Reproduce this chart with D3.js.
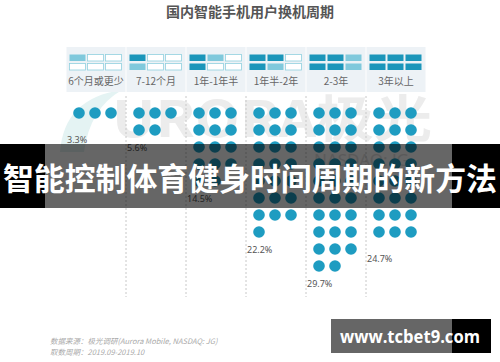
<!DOCTYPE html>
<html lang="zh">
<head>
    <meta charset="utf-8">
    <script type="text/javascript" src="https://d3js.org/d3.v7.min.js"></script>
    <style>
        body { margin: 0; background: #fff; }
        svg { display: block; font-family: "Noto Sans CJK SC", "Noto Sans", sans-serif; }
    </style>
</head>

<body>
    <script type="text/javascript">
        // SVG width and height
        let w = 500;
        let h = 362;

        // Data
        let categories = ["6个月或更少", "7-12个月", "1年-1年半", "1年半-2年", "2-3年", "3年以上"];
        let values = [3.3, 5.6, 14.5, 22.2, 29.7, 24.7];
        // legend boxes: filled dark / light (each box = 3 months)
        let legendDark = [0, 1, 2, 3, 4, 6];
        let legendLight = [1, 1, 1, 1, 2, 0];

        let dotsPerRow = 3;
        let r = 5.8;
        let teal = "#1e9cc1";

        let svg = d3.select("body").append("svg")
            .attr("width", w)
            .attr("height", h);

        let defs = svg.append("defs");

        // Scales
        let x = d3.scaleBand().domain(categories).range([66, 426]).padding(0);
        let xIn = d3.scalePoint().domain([0, 1, 2]).range([13, 45]);
        let y = d3.scaleLinear().domain([0, 1]).range([113, 130]);

        // Faint background logo
        svg.append("path")
            .attr("d", "M60,152 Q64,98 122,90 Q90,108 84,152 Z")
            .attr("fill", "#e4f3f3");
        svg.append("text")
            .attr("x", 112).attr("y", 137)
            .attr("font-size", 50).attr("font-weight", 700)
            .attr("fill", "#ececec")
            .attr("textLength", 320)
            .attr("lengthAdjust", "spacingAndGlyphs")
            .text("URORA极光");
        svg.append("text")
            .attr("x", 314).attr("y", 166)
            .attr("font-size", 17)
            .attr("fill", "#e2e2e2")
            .attr("font-family", "Noto Sans")
            .text("NASDAQ: JG");

        // Title
        svg.append("text")
            .attr("x", 250).attr("y", 17)
            .attr("text-anchor", "middle")
            .attr("font-size", 14).attr("font-weight", 700)
            .attr("fill", "#555")
            .text("国内智能手机用户换机周期");

        // Legend cells
        let cells = svg.selectAll(".cell")
            .data(categories)
            .join("g")
                .attr("class", "cell")
                .attr("transform", d => `translate(${x(d)},0)`);

        cells.append("rect")
            .attr("x", 0.5).attr("y", 47)
            .attr("width", x.bandwidth() - 1).attr("height", 45)
            .attr("fill", "#edf2f6");

        cells.each(function(d, i) {
            let boxes = d3.range(6).map(k => ({
                col: Math.floor(k / 2),
                row: k % 2,
                kind: k < legendDark[i] ? "dark" : (k < legendDark[i] + legendLight[i] ? "light" : "empty")
            }));
            d3.select(this).selectAll(".box")
                .data(boxes)
                .join("rect")
                    .attr("class", "box")
                    .attr("x", b => 3.5 + b.col * 18)
                    .attr("y", b => 54.5 + b.row * 9)
                    .attr("width", 16).attr("height", 6.5)
                    .attr("fill", b => b.kind === "dark" ? "#1b96ba" : (b.kind === "light" ? "#80c9dc" : "#fff"))
                    .attr("stroke", b => b.kind === "empty" ? "#8fd0de" : "none")
                    .attr("stroke-width", 0.8);
        });

        cells.append("text")
            .attr("x", x.bandwidth() / 2).attr("y", 85)
            .attr("text-anchor", "middle")
            .attr("font-size", 10)
            .attr("fill", "#666")
            .text(d => d);

        // Dashed separators
        svg.selectAll(".sep")
            .data(categories.slice(1))
            .join("line")
                .attr("class", "sep")
                .attr("x1", d => x(d)).attr("x2", d => x(d))
                .attr("y1", 96).attr("y2", 297)
                .attr("stroke", "#c8c8c8")
                .attr("stroke-dasharray", "2,2");

        // Dots (1 dot = 1%)
        categories.forEach(function(c, i) {
            let v = values[i];
            let full = Math.floor(v);
            let frac = Math.round((v - full) * 10) / 10;
            let dots = d3.range(full).map(k => ({ k: k, f: 1 }));
            if (frac > 0) dots.push({ k: full, f: frac });

            let g = svg.append("g").attr("transform", `translate(${x(c)},0)`);
            dots.forEach(function(d) {
                let cx = xIn(d.k % dotsPerRow);
                let cy = y(Math.floor(d.k / dotsPerRow));
                let dot = g.append("circle")
                    .attr("cx", cx).attr("cy", cy).attr("r", r)
                    .attr("fill", teal);
                if (d.f < 1) {
                    let id = "clip" + i;
                    defs.append("clipPath").attr("id", id)
                        .append("rect")
                        .attr("x", x(c) + cx - r).attr("y", cy - r)
                        .attr("width", 2 * r).attr("height", 2 * r * d.f);
                    dot.attr("clip-path", `url(#${id})`);
                }
            });

            let last = dots[dots.length - 1];
            let lastRow = Math.floor(last.k / dotsPerRow);
            let startsRow = last.k % dotsPerRow === 0 && last.f < 1;
            g.append("text")
                .attr("x", 1)
                .attr("y", y(lastRow) + (startsRow ? 13 : 21))
                .attr("font-size", 9)
                .attr("fill", "#555")
                .attr("font-family", "Noto Sans")
                .text(v + "%");
        });

        // Footnotes
        svg.append("text")
            .attr("x", 50).attr("y", 344)
            .attr("font-size", 7.5).attr("font-style", "italic")
            .attr("fill", "#aaa")
            .text("数据来源：极光调研(Aurora Mobile, NASDAQ: JG)");
        svg.append("text")
            .attr("x", 50).attr("y", 355)
            .attr("font-size", 7.5).attr("font-style", "italic")
            .attr("fill", "#aaa")
            .text("取数周期：2019.09-2019.10");

        // Overlay banner
        svg.append("rect").attr("x", 0).attr("y", 144).attr("width", 45).attr("height", 64).attr("fill", "#000");
        svg.append("rect").attr("x", 452).attr("y", 144).attr("width", 48).attr("height", 64).attr("fill", "#000");
        svg.append("rect").attr("x", 45).attr("y", 144).attr("width", 407).attr("height", 64)
            .attr("fill", "#000").attr("fill-opacity", 0.6);
        svg.append("text")
            .attr("x", 250).attr("y", 176)
            .attr("text-anchor", "middle")
            .attr("dominant-baseline", "central")
            .attr("font-size", 31).attr("font-weight", 700)
            .attr("fill", "#fff")
            .attr("textLength", 494)
            .attr("lengthAdjust", "spacingAndGlyphs")
            .text("智能控制体育健身时间周期的新方法");

        // Site watermark
        svg.append("rect").attr("x", 331).attr("y", 319).attr("width", 121).attr("height", 34).attr("fill", "#666");
        svg.append("rect").attr("x", 452).attr("y", 319).attr("width", 39).attr("height", 34).attr("fill", "#000");
        svg.append("text")
            .attr("x", 340).attr("y", 336)
            .attr("dominant-baseline", "central")
            .attr("font-family", "Open Sans").attr("font-weight", 700)
            .attr("font-size", 17)
            .attr("fill", "#fff")
            .attr("textLength", 140)
            .attr("lengthAdjust", "spacingAndGlyphs")
            .text("www.tcbet9.com");
    </script>
</body>
</html>
